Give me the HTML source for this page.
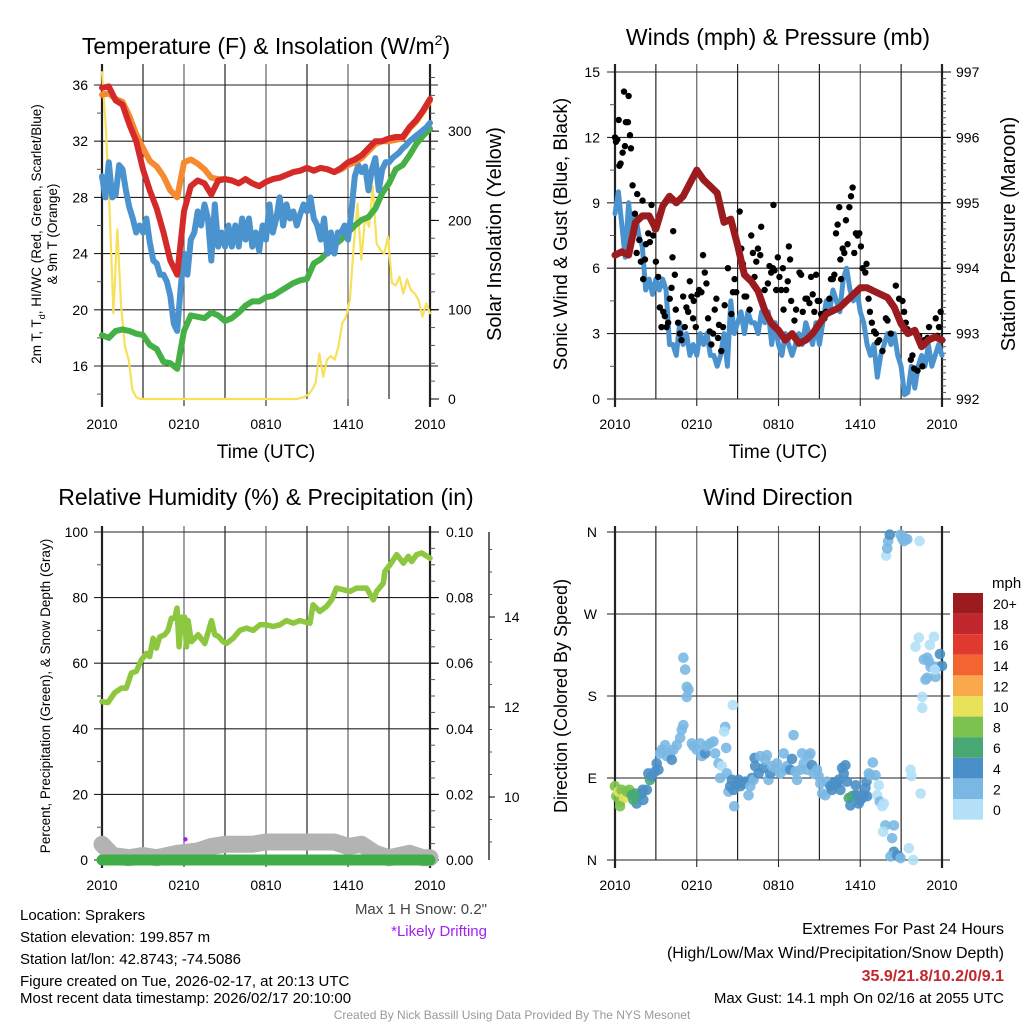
<!DOCTYPE html>
<html><head><meta charset="utf-8">
<style>
html,body{margin:0;padding:0;background:#fff;}
svg{display:block;font-family:"Liberation Sans",Arial,sans-serif;}
</style></head>
<body>
<svg id="root" width="1024" height="1024" viewBox="0 0 1024 1024" xmlns="http://www.w3.org/2000/svg">
<g id="gText" fill="#000">
<text x="266" y="54" font-size="23" text-anchor="middle">Temperature (F) &amp; Insolation (W/m<tspan dy="-9" font-size="14">2</tspan><tspan dy="9">)</tspan></text>
<text x="778" y="45" font-size="23" text-anchor="middle">Winds (mph) &amp; Pressure (mb)</text>
<text x="266" y="505" font-size="23" text-anchor="middle">Relative Humidity (%) &amp; Precipitation (in)</text>
<text x="778" y="505" font-size="23" text-anchor="middle">Wind Direction</text>
<text x="266" y="458" font-size="19" text-anchor="middle">Time (UTC)</text>
<text x="778" y="458" font-size="19" text-anchor="middle">Time (UTC)</text>
<text transform="translate(41,234) rotate(-90)" font-size="13.5" text-anchor="middle">2m T, T<tspan dy="4" font-size="9">d</tspan><tspan dy="-4">, HI/WC (Red, Green, Scarlet/Blue)</tspan></text>
<text transform="translate(57,234) rotate(-90)" font-size="13.5" text-anchor="middle">&amp; 9m T (Orange)</text>
<text transform="translate(501,234) rotate(-90)" font-size="20" text-anchor="middle">Solar Insolation (Yellow)</text>
<text transform="translate(567,234) rotate(-90)" font-size="19" text-anchor="middle">Sonic Wind &amp; Gust (Blue, Black)</text>
<text transform="translate(1015,234) rotate(-90)" font-size="20" text-anchor="middle">Station Pressure (Maroon)</text>
<text transform="translate(50,696) rotate(-90)" font-size="13.5" text-anchor="middle">Percent, Precipitation (Green), &amp; Snow Depth (Gray)</text>
<text transform="translate(567,696) rotate(-90)" font-size="18" text-anchor="middle">Direction (Colored By Speed)</text>
<g font-size="15">
<text x="20" y="920">Location: Sprakers</text>
<text x="20" y="942">Station elevation: 199.857 m</text>
<text x="20" y="964">Station lat/lon: 42.8743; -74.5086</text>
<text x="20" y="986">Figure created on Tue, 2026-02-17, at 20:13 UTC</text>
<text x="20" y="1003">Most recent data timestamp: 2026/02/17 20:10:00</text>
</g>
<text x="487" y="914" font-size="15" text-anchor="end" fill="#444">Max 1 H Snow: 0.2"</text>
<text x="487" y="936" font-size="15" text-anchor="end" fill="#a020f0">*Likely Drifting</text>
<g font-size="16" text-anchor="end">
<text x="1004" y="934">Extremes For Past 24 Hours</text>
<text x="1004" y="958">(High/Low/Max Wind/Precipitation/Snow Depth)</text>
<text x="1004" y="981" fill="#c1272d" font-weight="bold">35.9/21.8/10.2/0/9.1</text>
<text x="1004" y="1003" font-size="15">Max Gust: 14.1 mph On 02/16 at 2055 UTC</text>
</g>
<text x="512" y="1019" font-size="12" text-anchor="middle" fill="#999">Created By Nick Bassill Using Data Provided By The NYS Mesonet</text>
<text x="992" y="588" font-size="15">mph</text>
</g>
</svg>
<script>
// ---------- data ----------
const timeTicks = ["2010","0210","0810","1410","2010"];
const timeTickHours = [0,6,12,18,24];
const tempTicks = [16,20,24,28,32,36];
const solarTicks = [0,100,200,300];
const windTicks = [0,3,6,9,12,15];
const pressTicks = [992,993,994,995,996,997];
const rhTicks = [0,20,40,60,80,100];
const precipTicks = ["0.00","0.02","0.04","0.06","0.08","0.10"];
const snowTicks = [10,12,14];
const dirTicks = ["N","E","S","W","N"];
const speedLabels = ["20+","18","16","14","12","10","8","6","4","2","0"];

const temp2m = [35.8,35.9,34.9,34.6,33.2,32.0,30.0,28.5,27.2,25.5,23.5,22.5,27.0,28.8,29.2,29.0,28.2,29.2,29.3,29.2,29.0,29.3,29.0,28.8,29.1,29.3,29.4,29.6,29.8,29.9,30.1,29.9,30.1,30.0,29.8,30.1,30.5,30.7,31.0,31.5,32.0,32.0,32.2,32.3,32.3,33.0,33.5,34.2,35.0];
const temp9m = [35.3,35.4,35.0,34.8,33.8,32.5,31.5,30.6,30.2,29.5,28.5,28.0,30.5,30.7,30.4,30.0,29.4,29.3,29.3,29.2,29.0,29.3,29.0,28.8,29.1,29.3,29.4,29.6,29.8,29.9,30.1,29.9,30.1,30.0,29.8,30.0,30.3,30.5,30.8,31.3,31.8,32.0,32.0,32.1,32.2,32.9,33.4,34.1,34.9];
const dewpoint = [18.2,18.0,18.5,18.6,18.5,18.3,18.2,17.5,17.2,16.3,16.2,15.8,18.5,19.6,19.5,19.4,19.8,19.6,19.2,19.4,19.8,20.3,20.6,20.6,20.9,21.0,21.3,21.6,21.9,22.1,22.2,23.3,23.6,24.1,24.6,25.0,25.5,26.0,26.4,26.6,27.2,28.3,29.0,30.0,30.3,31.0,31.8,32.4,32.9];
const windChill = [29.5,28,30.5,28,28.2,30.3,30,28.5,27.3,26.5,25.5,26,25.5,26.5,24.8,23.5,23.3,22.5,22.5,22,21,19,18.5,21.5,24,22.5,25,25.5,27,26,27.5,26.5,23.5,27.5,24.5,25.5,24.5,26,24.5,26,24.5,26.5,25,26.5,24.5,25.5,24.2,26,25,27.5,25.5,26.5,28,26,27.5,26.5,27,26,26.8,27.5,27,28,26.5,26,25,26.5,24,25.5,24,25.5,25.5,26,25,27,29.5,30.3,29.8,30.2,28.5,30,30.8,28.5,30,30.5,30.5,30.8,31,31.2,31.5,31.7,32,32.2,32.4,32.6,32.8,33,33.3];
const solar = [366,305,212,96,190,104,59,44,10,2,
0,0,0,0,0,0,0,0,0,0,0,0,0,0,0,0,0,0,0,0,0,0,0,0,0,0,0,0,0,0,0,0,0,0,0,0,0,0,0,0,0,0,
1,2,5,10,18,51,25,44,48,44,59,85,92,111,171,219,156,204,193,238,174,167,163,182,130,127,137,118,134,122,118,111,92,107,96];

const windSpeed = [8.5,9.5,8,6.5, 9,7.5,8.5,7.5, 7,5,5.5,4.8, 5.5,5,5.5,5, 2.5,2.5,2,3.5, 2.5,3,2,2.5, 2,3,2.5,3, 2,2,1.5,2, 3,1.5,4.5,3, 3.5,4,3,4, 3.5,3.5,3,4, 3.5,4,2.5,3.5, 2.5,2,3,2.5, 2,2.5,3,2.5, 3.5,3,2.5,3.5, 2.5,3.5,4.5,4, 5,4.5,4,5.5, 6,5,4.5,5, 4,3.5,2.5,2, 2.5,1,2,2.5, 3,2.5,3,2, 1.5,0.2,0.3,1.5, 0.5,1.5,2,1.5, 2.5,1.5,2,2.5, 2];
const pressure = [994.2,994.25,994.2,994.7,994.8,994.8,994.6,994.95,995.1,995.0,995.1,995.3,995.5,995.35,995.25,995.15,994.7,994.75,994.35,993.9,993.8,993.65,993.35,993.15,993.05,992.9,993.0,992.85,992.9,993.0,993.15,993.3,993.35,993.4,993.5,993.6,993.7,993.7,993.65,993.6,993.55,993.4,993.15,993.0,993.05,992.8,992.9,992.95,992.9];
const gustHours = [0,.07,.17,.27,.32,.41,.56,.66,.73,.8,.95,1.0,1.1,1.17,1.29,1.46,1.59,1.63,1.78,1.9,2.02,2.2,2.27,2.07,2.44,2.56,2.68,2.8,2.93,3.0,3.17,3.29,3.41,3.54,3.66,3.78,3.9,4.02,4.15,4.22,4.27,4.39,4.46,4.63,4.76,4.88,5.0,5.12,5.24,5.37,5.49,5.61,5.73,5.78,5.93,6.05,6.17,6.34,6.46,6.59,6.71,6.83,6.95,7.07,7.2,7.32,7.44,7.56,7.63,7.8,7.93,8.05,8.29,8.54,8.66,8.78,8.9,9.15,9.27,9.39,9.51,9.63,9.88,10.0,10.12,10.24,10.37,10.49,10.66,10.73,10.98,11.22,11.34,11.46,11.59,11.63,11.71,11.83,11.95,12.07,12.2,12.32,12.37,12.56,12.68,12.76,12.85,12.93,13.17,13.29,13.54,13.66,13.78,13.98,14.1,14.27,14.39,14.51,14.63,14.76,14.88,15.0,15.12,15.24,15.37,15.49,15.73,15.85,15.98,16.1,16.22,16.34,16.46,16.54,16.59,16.71,16.83,16.95,17.07,17.2,17.32,17.44,17.56,17.68,17.8,17.93,18.05,18.17,18.37,18.46,18.61,18.71,18.85,19.02,19.15,19.27,19.39,19.63,19.88,20.0,20.24,20.61,20.85,21.1,21.22,21.34,21.46,21.71,21.83,21.95,22.2,22.32,22.56,22.68,22.93,23.05,23.29,23.54,23.66,23.78,23.9,23.98];
const gustValues = [12.0,11.8,11.9,12.8,10.7,10.8,11.3,14.1,11.6,12.7,12.7,13.9,12.1,11.5,9.8,8.5,6.7,9.4,7.3,6.3,9.1,6.4,7.1,5.5,7.6,7.2,8.9,7.5,7.8,6.3,5.6,4.2,3.3,4.0,3.8,3.3,3.5,4.6,5.1,6.5,7.7,5.7,4.1,3.5,3.0,2.7,4.7,3.3,4.2,4.0,5.4,4.7,3.7,4.5,3.3,4.8,5.0,4.9,6.6,5.8,5.3,3.7,3.1,2.5,3.0,4.1,4.6,2.8,3.4,2.2,3.3,4.3,6.0,3.9,4.9,5.5,4.9,8.6,6.9,6.2,4.7,4.7,4.1,7.5,6.7,5.6,6.3,6.9,6.6,7.9,5.0,5.3,6.1,5.8,6.0,8.9,5.9,5.0,6.5,5.6,5.0,6.0,4.1,5.0,5.4,7.0,6.4,4.5,3.6,4.1,5.8,5.7,4.0,4.6,4.6,4.4,5.6,4.8,4.0,5.7,4.5,4.5,3.9,3.7,3.7,4.0,4.6,5.5,5.5,5.7,7.6,8.0,8.8,6.4,5.5,6.9,6.7,8.2,7.1,8.8,9.3,9.7,6.7,7.6,7.5,7.6,7.0,6.0,5.8,6.2,4.6,4.0,3.5,3.1,3.0,2.6,2.7,2.2,3.7,3.6,3.0,5.2,4.6,4.5,4.0,3.5,3.2,1.8,2.0,1.4,1.3,2.9,1.5,2.7,2.8,3.3,2.8,3.7,2.9,3.3,4.0,2.7];

const rhHours = [0,.44,.93,1.42,1.78,2.15,2.51,2.88,3.25,3.49,3.74,3.98,4.22,4.59,4.83,5.08,5.32,5.49,5.64,5.81,6.05,6.18,6.3,6.54,6.79,7.03,7.52,8.01,8.25,8.5,8.86,9.11,9.59,10.08,10.57,11.06,11.55,12.04,12.52,13.01,13.5,13.99,14.48,15.21,15.45,15.94,16.43,16.8,17.16,17.65,18.14,18.63,19.36,19.85,20.09,20.58,20.7,21.07,21.56,22.05,22.41,22.66,23.02,23.39,24];
const rhValues = [48.3,48,51,52.4,52.4,57,57.5,61,63,62,67.6,64.6,68,68.7,70,73.7,73.7,76.8,65,74,74,65,73,66.6,67.6,68.7,66,73,68.7,68.2,66.6,66,67.6,70,70.7,70,71.7,71.7,71.2,71.7,73,72.2,73,72.2,77.8,75.8,77.3,79.3,82.9,82.4,81.9,82.9,82.9,79.3,81.9,84.4,88,90,93.1,90.5,92.6,91,93.1,93.6,92];
const snowHours = [0,0.8,2,3,4,5.5,7,8,9,10,11,12,13,14,15,16,17,18,19,20,21,22.5,23.5,24];
const snowDepth = [8.95,8.7,8.65,8.7,8.65,8.75,8.8,8.9,8.95,8.95,8.95,9.0,9.0,9.0,9.0,9.0,9.0,8.9,8.95,8.75,8.65,8.75,8.65,8.65];
const precip = [0,0];
const precipHours = [0,24];
const driftHours = [6.1];
const driftSnow = [9.06];

const dirObs = [[0,81,8],[0.1,70,8],[0.25,75,10],[0.37,64,8],[0.49,77,8],[0.66,68,10],[0.86,75,8],[1.05,77,8],[1.23,71,6],[1.47,73,6],[1.59,62,4],[1.79,71,6],[1.96,73,6],[2.08,66,4],[2.03,77,4],[2.33,77,4],[1.35,66,6],[0.37,59,8],
[2.45,95,4],[2.57,88,6],[2.7,92,4],[3.06,106,4],[2.94,97,4],[3.19,99,4],[3.31,117,2],[3.43,121,2],[3.68,126,2],[3.8,114,2],[4.04,117,2],[4.17,110,4],[4.29,121,2],[4.53,126,2],[4.78,134,2],[4.9,143,2],[5.02,148,2],[5.15,209,2],[5.02,222,2],[5.27,190,2],[5.39,187,2],[5.27,179,2],
[5.64,128,2],[5.76,125,2],[6.0,121,2],[6.25,128,2],[6.37,114,2],[6.62,117,4],[6.74,125,2],[6.99,128,2],[7.23,130,2],[7.35,117,2],[7.6,106,2],[7.72,90,2],[7.84,103,1],[8.09,146,2],[8.01,141,1],[8.16,123,2],[8.21,95,2],[8.33,75,2],[8.46,81,4],[8.58,88,4],[8.65,170,1],[8.7,77,4],[8.75,59,2],[8.95,84,4],[9.07,88,4],[9.19,81,4],[9.44,84,4],[9.56,86,4],[9.8,71,2],[9.93,81,2],[10.05,90,4],[10.17,88,2],[10.25,112,4],[10.29,103,4],[10.54,95,4],[10.66,114,2],[10.91,101,4],[11.03,110,2],[11.15,115,2],[11.27,88,2],[11.4,95,4],[11.52,103,2],[11.76,101,2],[11.89,106,2],[12.13,95,2],[12.38,117,2],[12.5,99,2],[12.62,103,2],[12.87,99,4],[12.99,111,4],[13.11,137,2],[13.24,97,2],[13.36,88,2],[13.6,99,2],[13.73,117,2],[13.85,106,2],[14.09,99,2],[14.22,114,2],[14.34,117,2],[14.46,104,4],[14.58,95,2],[14.83,99,2],[14.95,92,2],[15.07,84,2],[15.2,73,2],[15.44,71,2],[15.56,86,2],[15.81,81,4],[15.93,77,4],[16.05,84,4],[16.3,84,4],[16.42,88,4],[16.54,77,4],[16.67,101,4],[16.79,95,4],[16.91,104,4],[17.03,86,4],[17.16,68,6],[17.28,60,4],[17.4,70,6],[17.57,71,6],[17.67,82,4],[17.77,71,4],[17.89,62,4],[18.01,66,4],[18.14,68,4],[18.26,71,4],[18.38,79,4],[18.5,70,4],[18.46,86,4],[18.63,95,2],[18.75,93,2],[18.92,107,2],[19.12,93,2],[19.24,71,1],[19.36,82,1],[19.44,64,2],[19.61,59,1],[19.73,62,1],[19.85,38,2],[19.68,31,1],[20.34,24,2],[20.47,38,2],[20.47,9,4],[20.22,4,2],[20.71,5,4],[20.83,4,4],[20.96,2,2],[21.57,13,1],[21.89,0,1],[21.69,99,1],[21.76,92,1],[22.43,73,1],
[19.9,334,1],[19.98,342,2],[20.05,350,2],[20.17,357,4],[20.96,357,2],[21.08,353,2],[21.2,350,2],[21.32,353,2],[21.45,352,2],[22.35,350,1],[22.06,234,1],[22.3,244,1],[23.11,236,1],[23.41,245,1],[22.55,179,1],[22.55,167,1],[22.67,220,2],[22.92,222,2],[23.04,218,2],[23.16,212,2],[23.41,212,2],[23.65,212,2],[23.85,226,4],[24.0,213,4],[22.79,198,2],[22.92,200,2],[23.53,201,2],[23.48,209,1]];

// ---------- rendering ----------
const NS = "http://www.w3.org/2000/svg";
const root = document.getElementById('root');
function mk(tag, attrs, parent){
  const e = document.createElementNS(NS, tag);
  for (const k in attrs) e.setAttribute(k, attrs[k]);
  (parent||root).appendChild(e);
  return e;
}
const speedColors = ["#b3e0f7","#7ab8e3","#4a8fc7","#48a873","#7bc24e","#e8e15a","#f9a94b","#f26430","#e03a2f","#c1272d","#9b1b1e"];

function panel(name, x0, x1, y0, y1){
  const g = mk('g', {});
  
  
  const W = x1 - x0;
  const xs = h => x0 + h / 24 * W;
  return {g, x0, x1, y0, y1, xs};
}
function grid(P, yVals, yFn){
  const gg = mk('g', {stroke:'#222','stroke-width':1.1}, P.g);
  
  
  for (let h = 3; h < 24; h += 3) {
    const x = P.xs(h);
    mk('line', {x1:x, x2:x, y1:P.y0-6, y2:P.y1, stroke: (h % 6 === 0) ? '#555' : '#111'}, gg);
  }
  yVals.forEach(v => { const y = yFn(v); mk('line', {x1:P.x0-8, x2:P.x1+8, y1:y, y2:y}, gg); });
  mk('line', {x1:P.x0, x2:P.x0, y1:P.y0-6, y2:P.y1+8, 'stroke-width':2.2}, gg);
  mk('line', {x1:P.x1, x2:P.x1, y1:P.y0-6, y2:P.y1+8, 'stroke-width':2.2}, gg);
  timeTickHours.forEach(h => {
    const x = P.xs(h);
    mk('line', {x1:x, x2:x, y1:P.y1, y2:P.y1+7}, gg);
  });
}
function xLabels(P){
  timeTicks.forEach((t, i) => {
    const e = mk('text', {x:P.xs(timeTickHours[i]), y:P.y1+30, 'font-size':14, 'text-anchor':'middle'}, P.g);
    
    
    e.textContent = t;
  });
}
function yLabels(P, vals, fn, side, xoff, labels, fs){
  vals.forEach((v, i) => {
    const y = fn(v);
    const x = side === 'left' ? P.x0 - xoff : P.x1 + xoff;
    const e = mk('text', {x:x, y:y+5, 'font-size':fs||14, 'text-anchor': side === 'left' ? 'end' : 'start'}, P.g);
    
    
    e.textContent = labels ? labels[i] : v;
  });
}
function minor(P, vals, fn, side, len){
  const x = side === 'left' ? P.x0 : P.x1;
  vals.forEach(v => { const y = fn(v); mk('line', {x1:x, x2: side === 'left' ? x-len : x+len, y1:y, y2:y, stroke:'#555','stroke-width':1}, P.g); });
}
function linePath(P, hours, vals, yFn, color, width, name){
  let d = '';
  vals.forEach((v, i) => { d += (i ? 'L' : 'M') + P.xs(hours[i]).toFixed(1) + ' ' + yFn(v).toFixed(1); });
  const e = mk('path', {d:d, fill:'none', stroke:color, 'stroke-width':width, 'stroke-linejoin':'round', 'stroke-linecap':'round'}, P.g);
  
  
  return e;
}
const stepHours = (n) => Array.from({length:n}, (_, i) => i * 24 / (n - 1));
function range(a, b, s){ const r = []; for (let v = a; v <= b + 1e-9; v += s) r.push(v); return r; }

// Panel 1
const P1 = panel('temperature-panel', 102, 430, 70, 399);
const yT = t => 85 + (36 - t) * 14.05;
const yS = s => 399 - s * 0.893;
grid(P1, tempTicks, yT);
minor(P1, [14,18,22,26,30,34], yT, 'left', 5);
minor(P1, range(20, 360, 20), yS, 'right', 5);
solarTicks.forEach(s => mk('line', {x1:P1.x1, x2:P1.x1+9, y1:yS(s), y2:yS(s), stroke:'#000'}, P1.g));
yLabels(P1, tempTicks, yT, 'left', 14);
yLabels(P1, solarTicks, yS, 'right', 18);
xLabels(P1);
linePath(P1, stepHours(solar.length), solar, yS, '#f7e15a', 2.2, 'solar-line');
linePath(P1, stepHours(dewpoint.length), dewpoint, yT, '#44b046', 6, 'dewpoint-line');
linePath(P1, stepHours(windChill.length), windChill, yT, '#4b93cf', 6, 'windchill-line');
linePath(P1, stepHours(temp9m.length), temp9m, yT, '#f58a30', 6, 'temp-9m-line');
linePath(P1, stepHours(temp2m.length), temp2m, yT, '#d42a2a', 6, 'temp-2m-line');

// Panel 2
const P2 = panel('wind-panel', 615, 942, 70, 399);
const yW = w => 399 - w * 21.8;
const yP = p => 399 - (p - 992) * 65.4;
grid(P2, windTicks, yW);
minor(P2, range(1.5, 13.5, 3), yW, 'left', 5);
minor(P2, range(992.1, 996.95, 0.1), yP, 'right', 4);
pressTicks.forEach(p => mk('line', {x1:P2.x1, x2:P2.x1+9, y1:yP(p), y2:yP(p), stroke:'#000'}, P2.g));
yLabels(P2, windTicks, yW, 'left', 15);
yLabels(P2, pressTicks, yP, 'right', 14);
xLabels(P2);
linePath(P2, stepHours(windSpeed.length), windSpeed, yW, '#4b93cf', 5, 'wind-speed-line');
const gg = mk('g', {fill:'#000'}, P2.g);


gustValues.forEach((v, i) => {
  const c = mk('circle', {cx:P2.xs(gustHours[i]), cy:yW(v), r:3.2}, gg);
  
  
});
linePath(P2, stepHours(pressure.length), pressure, yP, '#9b1b1e', 7, 'pressure-line');

// Panel 3
const P3 = panel('humidity-panel', 102, 430, 532, 860);
const yR = r => 860 - r * 3.28;
const ySn = v => 797 - (v - 10) * 45;
grid(P3, rhTicks, yR);
minor(P3, range(10, 90, 20), yR, 'left', 5);
minor(P3, range(5, 95, 5), yR, 'right', 5);
rhTicks.forEach(r => mk('line', {x1:P3.x1, x2:P3.x1+9, y1:yR(r), y2:yR(r), stroke:'#000'}, P3.g));
yLabels(P3, rhTicks, yR, 'left', 14);
yLabels(P3, rhTicks, yR, 'right', 16, precipTicks);
mk('line', {x1:489, x2:489, y1:532, y2:860, stroke:'#000', 'stroke-width':1.2}, P3.g);
range(8.5, 15.5, 0.5).forEach(v => { if (ySn(v) >= 532 && ySn(v) <= 860) mk('line', {x1:489, x2:492, y1:ySn(v), y2:ySn(v), stroke:'#555'}, P3.g); });
snowTicks.forEach(v => {
  mk('line', {x1:489, x2:495, y1:ySn(v), y2:ySn(v), stroke:'#000'}, P3.g);
  const e = mk('text', {x:504, y:ySn(v)+5, 'font-size':14}, P3.g);
  
  
  e.textContent = v;
});
xLabels(P3);
linePath(P3, snowHours, snowDepth, ySn, '#b3b3b3', 17, 'snow-depth-line');
linePath(P3, precipHours, precip, v => 860 - v * 3280, '#3fae49', 11, 'precip-line');
linePath(P3, rhHours, rhValues, yR, '#8dc63f', 5.5, 'humidity-line');
driftHours.forEach((h, i) => {
  const c = mk('circle', {cx:P3.xs(h), cy:ySn(driftSnow[i]), r:2.2, fill:'#a020f0'}, P3.g);
  
  
});

// Panel 4
const P4 = panel('direction-panel', 615, 942, 532, 860);
const yD = d => 860 - d * 328 / 360;
grid(P4, [0,90,180,270,360], yD);
yLabels(P4, [0,90,180,270,360], yD, 'left', 18, dirTicks);
xLabels(P4);
const dg = mk('g', {}, P4.g);


dirObs.forEach(o => {
  const bin = Math.min(10, Math.floor(o[2] / 2));
  const c = mk('circle', {cx:P4.xs(o[0]), cy:yD(o[1]), r:5.3, fill:speedColors[bin], 'fill-opacity':0.9}, dg);
  
  
});

// Colorbar
const cb = mk('g', {}, root);


speedLabels.forEach((l, i) => {
  const y = 593 + i * 20.6;
  const r = mk('rect', {x:953, y:y, width:30, height:20.6, fill:speedColors[10 - i]}, cb);
  
  
  const t = mk('text', {x:993, y:y+16, 'font-size':14}, cb);
  
  
  t.textContent = l;
});
</script>
</body></html>
